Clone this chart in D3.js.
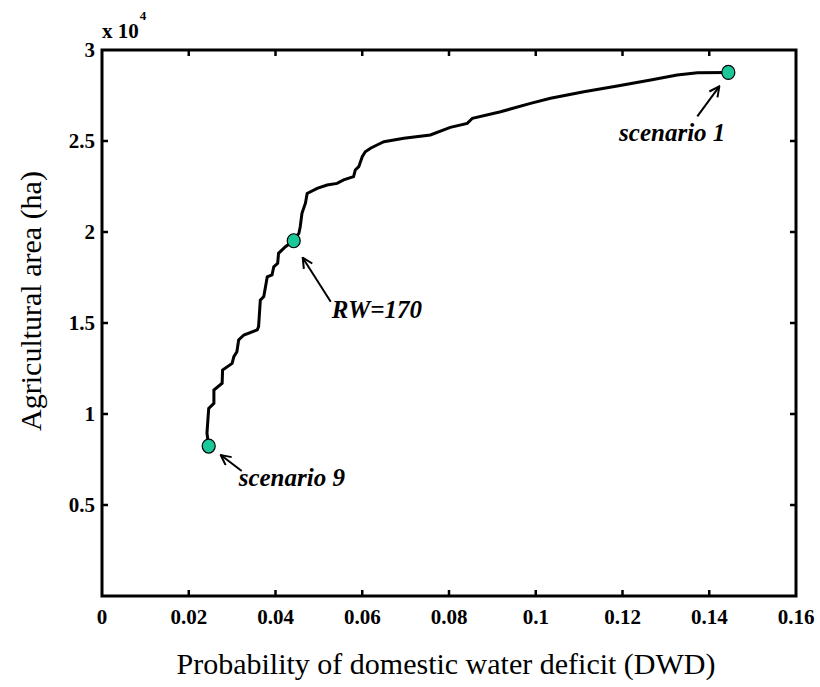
<!DOCTYPE html>
<html>
<head>
<meta charset="utf-8">
<script src="https://cdn.jsdelivr.net/npm/d3@7"></script>
<style>
  body { margin: 0; background: #fff; }
  svg text { font-family: "Liberation Serif", "Times New Roman", serif; }
  .tick-label { font-weight: bold; font-size: 21px; }
  .axis-title { font-size: 30px; }
  .note { font-weight: bold; font-style: italic; font-size: 25px; }
</style>
</head>
<body>
<div id="chart"></div>
<script>
// frontier curve: probability of domestic water deficit vs agricultural area (x 10^4 ha)
const dwd = [0.0246, 0.0242, 0.0246, 0.0258, 0.0258, 0.0277, 0.0278, 0.0300, 0.0304, 0.0311,
  0.0315, 0.0327, 0.0358, 0.0361, 0.0365, 0.0373, 0.0381, 0.0392, 0.0396, 0.0405,
  0.0407, 0.0423, 0.0442, 0.0454, 0.0457, 0.0461, 0.0469, 0.0473, 0.0496, 0.0519,
  0.0542, 0.0557, 0.0580, 0.0584, 0.0592, 0.0600, 0.0607, 0.0619, 0.0634, 0.0650,
  0.0696, 0.0757, 0.0803, 0.0842, 0.0854, 0.0919, 0.0988, 0.1034, 0.1111, 0.1188,
  0.1265, 0.1326, 0.1373, 0.1444];
const area = [0.824, 0.894, 1.031, 1.059, 1.132, 1.169, 1.242, 1.278, 1.315, 1.342,
  1.407, 1.434, 1.462, 1.480, 1.626, 1.645, 1.754, 1.764, 1.809, 1.828,
  1.883, 1.919, 1.952, 1.993, 2.029, 2.103, 2.158, 2.212, 2.240, 2.258,
  2.267, 2.286, 2.304, 2.341, 2.359, 2.414, 2.441, 2.460, 2.478, 2.496,
  2.515, 2.533, 2.575, 2.597, 2.625, 2.661, 2.707, 2.735, 2.771, 2.802,
  2.835, 2.863, 2.875, 2.877];

// highlighted solutions
const markLabels = ["scenario 1", "RW=170", "scenario 9"];
const markX = [0.1444, 0.0442, 0.0246];
const markY = [2.877, 1.952, 0.824];

const xTicks = [0, 0.02, 0.04, 0.06, 0.08, 0.1, 0.12, 0.14, 0.16];
const yTicks = [0.5, 1, 1.5, 2, 2.5, 3];

const width = 820, height = 687;
const margin = { top: 50, right: 24, bottom: 91, left: 102 };

const svg = d3.select("#chart").append("svg")
  .attr("width", width).attr("height", height);

const x = d3.scaleLinear().domain([0, 0.16]).range([margin.left, width - margin.right]);
const y = d3.scaleLinear().domain([0, 3]).range([height - margin.bottom, margin.top]);

const x0 = x.range()[0], x1 = x.range()[1];
const y0 = y.range()[0], y1 = y.range()[1];

// ticks (inward, bottom + top, left + right)
const tickLen = 6;
const gTicks = svg.append("g").attr("stroke", "#000").attr("stroke-width", 2.5);
xTicks.slice(1, -1).forEach((t) => {
  gTicks.append("line").attr("x1", x(t)).attr("x2", x(t)).attr("y1", y0).attr("y2", y0 - tickLen);
  gTicks.append("line").attr("x1", x(t)).attr("x2", x(t)).attr("y1", y1).attr("y2", y1 + tickLen);
});
yTicks.slice(0, -1).forEach((t) => {
  gTicks.append("line").attr("x1", x0).attr("x2", x0 + tickLen).attr("y1", y(t)).attr("y2", y(t));
  gTicks.append("line").attr("x1", x1).attr("x2", x1 - tickLen).attr("y1", y(t)).attr("y2", y(t));
});

// frame
svg.append("rect")
  .attr("x", x0).attr("y", y1)
  .attr("width", x1 - x0).attr("height", y0 - y1)
  .attr("fill", "none").attr("stroke", "#000").attr("stroke-width", 3);

// tick labels
svg.append("g").selectAll("text").data(xTicks).join("text")
  .attr("class", "tick-label")
  .attr("x", (d) => x(d)).attr("y", y0 + 28)
  .attr("text-anchor", "middle")
  .text((d) => d);

svg.append("g").selectAll("text").data(yTicks).join("text")
  .attr("class", "tick-label")
  .attr("x", x0 - 7).attr("y", (d) => y(d))
  .attr("dy", "0.35em")
  .attr("text-anchor", "end")
  .text((d) => d);

// exponent
const expo = svg.append("text").attr("class", "tick-label")
  .attr("x", x0).attr("y", y1 - 12);
expo.append("tspan").text("x 10");
expo.append("tspan").attr("dy", -18).attr("dx", 1).style("font-size", "13px").text("4");

// axis titles
svg.append("text").attr("class", "axis-title")
  .attr("x", (x0 + x1) / 2 - 3).attr("y", height - 13)
  .attr("text-anchor", "middle")
  .text("Probability of domestic water deficit (DWD)");

svg.append("text").attr("class", "axis-title")
  .attr("transform", `translate(41,301) rotate(-90)`)
  .attr("text-anchor", "middle")
  .text("Agricultural area (ha)");

// curve
const line = d3.line().x((d) => x(d[0])).y((d) => y(d[1]));
svg.append("path")
  .datum(d3.zip(dwd, area))
  .attr("d", line)
  .attr("fill", "none")
  .attr("stroke", "#000")
  .attr("stroke-width", 3)
  .attr("stroke-linejoin", "miter");

// arrows + labels (offsets relative to each marked point)
const notes = [
  { head: [-9, 14], tail: [-31, 44], text: [-3, 69], anchor: "end" },
  { head: [9, 17], tail: [37, 61], text: [38, 77], anchor: "start" },
  { head: [12, 9], tail: [33, 25], text: [30, 40], anchor: "start" },
];

svg.append("defs").append("marker")
  .attr("id", "arrow")
  .attr("viewBox", "0 0 12 12")
  .attr("refX", 11).attr("refY", 6)
  .attr("markerWidth", 12).attr("markerHeight", 12)
  .attr("markerUnits", "userSpaceOnUse")
  .attr("orient", "auto")
  .append("path")
  .attr("d", "M1,1 L11,6 L1,11")
  .attr("fill", "none").attr("stroke", "#000").attr("stroke-width", 2);

markLabels.forEach((label, i) => {
  const px = x(markX[i]), py = y(markY[i]);
  const n = notes[i];
  svg.append("line")
    .attr("x1", px + n.tail[0]).attr("y1", py + n.tail[1])
    .attr("x2", px + n.head[0]).attr("y2", py + n.head[1])
    .attr("stroke", "#000").attr("stroke-width", 2)
    .attr("marker-end", "url(#arrow)");
  svg.append("text").attr("class", "note")
    .attr("x", px + n.text[0]).attr("y", py + n.text[1])
    .attr("text-anchor", n.anchor)
    .text(label);
});

// markers
svg.append("g").selectAll("ellipse").data(d3.range(markX.length)).join("ellipse")
  .attr("cx", (i) => x(markX[i])).attr("cy", (i) => y(markY[i]))
  .attr("rx", 6.5).attr("ry", 7)
  .attr("fill", "#1cc79a")
  .attr("stroke", "#000").attr("stroke-width", 1.2);
</script>
</body>
</html>
